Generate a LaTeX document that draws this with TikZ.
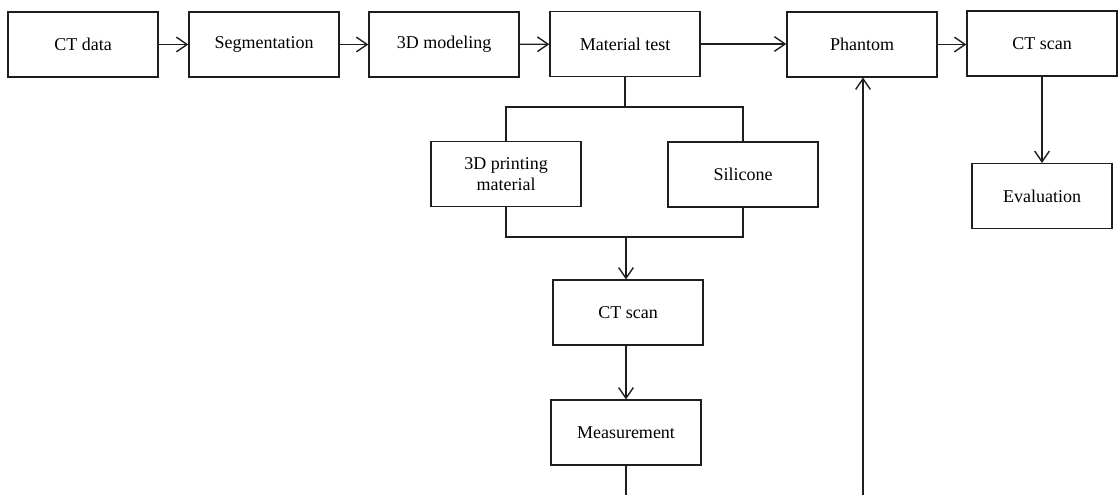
\documentclass[tikz,border=0pt]{standalone}
\usepackage{fontspec}
\setmainfont{Liberation Serif}
\usepackage{tikz}
\usetikzlibrary{arrows.meta, positioning, calc}
\definecolor{mydark}{RGB}{30,30,30}
\tikzset{
  block/.style={rectangle, draw=mydark, fill=white,
    minimum width=112.5pt, minimum height=48.5pt, align=center,
    font=\fontsize{13.5}{16}\selectfont, line width=1.05pt},
  smallblock/.style={block, minimum width=105pt},
  arrow/.style={-{Straight Barb[length=8pt, width=11pt]}, line width=1.05pt, color=mydark},
  line/.style={line width=1.05pt, color=mydark}
}
\begin{document}
\begin{tikzpicture}[x=0.75pt, y=-0.75pt]
  \useasboundingbox (0,0) rectangle (1118,495);

  % Top row
  \node[block] (ctdata)  at (83,44.5)   {CT data};
  \node[block] (seg)     at (264,44.5)  {Segmentation};
  \node[block] (model)   at (444,44.5)  {3D modeling};
  \node[block] (mattest) at (625,44)    {Material test};
  \node[block] (phantom) at (862,44.5)  {Phantom};
  \node[block] (ctscan)  at (1042,43.5) {CT scan};
  \node[smallblock] (eval) at (1042,196) {Evaluation};

  % Material branch
  \node[block] (printing) at (506,174)   {3D printing\\material};
  \node[block] (silicone) at (743,174.5) {Silicone};
  \node[block] (ctscanm)  at (628,312.5) {CT scan};
  \node[block] (measure)  at (626,432.5) {Measurement};

  \coordinate (split) at (625,107);
  \coordinate (join)  at (626,237);
  \coordinate (outm)  at (626,495);
  \coordinate (outp)  at (863,495);

  % Arrows along the top
  \draw[arrow] (ctdata) -- (seg);
  \draw[arrow] (seg) -- (model);
  \draw[arrow] (model) -- (mattest);
  \draw[arrow] (mattest.east) -- (mattest.east -| phantom.west);
  \draw[arrow] (phantom.east) -- (phantom.east -| ctscan.west);
  \draw[arrow] (ctscan) -- (eval);

  % Split into the two materials and join again
  \draw[line] (mattest.south) -- (split);
  \draw[line] (printing.north) |- (split) -| (silicone.north);
  \draw[line] (printing.south) |- (join) -| (silicone.south);
  \draw[arrow] (join) -- (join |- ctscanm.north);
  \draw[arrow] (ctscanm.south -| measure.north) -- (measure.north);

  % Lines leaving the bottom edge
  \draw[line] (measure.south) -- (outm);
  \draw[arrow] (outp) -- (outp |- phantom.south);
\end{tikzpicture}
\end{document}
